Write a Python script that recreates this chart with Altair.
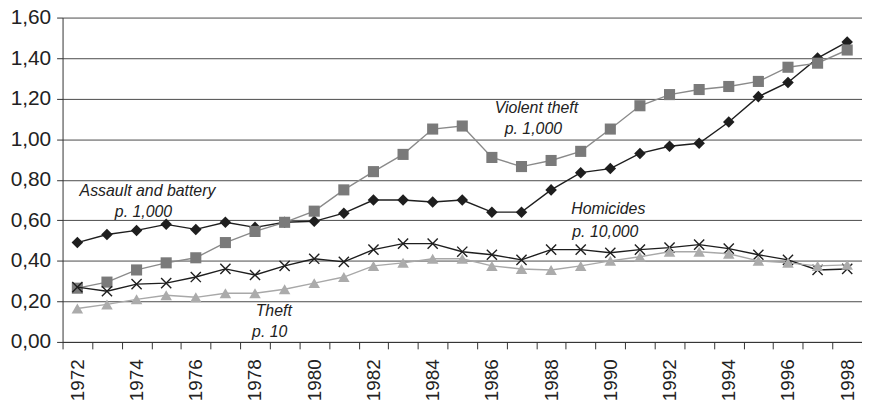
import altair as alt
import pandas as pd

years = list(range(1972, 1999))

assault = [0.49, 0.53, 0.55, 0.58, 0.555, 0.59, 0.565, 0.59, 0.595, 0.635, 0.70, 0.70, 0.69,
           0.70, 0.64, 0.64, 0.75, 0.835, 0.855, 0.93, 0.965, 0.98, 1.085, 1.21, 1.28, 1.40, 1.48]
violent_theft = [0.265, 0.295, 0.355, 0.39, 0.415, 0.49, 0.545, 0.59, 0.645, 0.75, 0.84, 0.925, 1.05,
                 1.065, 0.91, 0.865, 0.895, 0.94, 1.05, 1.165, 1.22, 1.245, 1.26, 1.285, 1.355, 1.375, 1.44]
homicides = [0.27, 0.25, 0.285, 0.29, 0.32, 0.36, 0.33, 0.375, 0.41, 0.395, 0.455, 0.485, 0.485,
             0.445, 0.43, 0.405, 0.455, 0.455, 0.44, 0.455, 0.465, 0.48, 0.46, 0.43, 0.405, 0.355, 0.36]
theft = [0.165, 0.185, 0.21, 0.23, 0.22, 0.24, 0.24, 0.26, 0.29, 0.32, 0.375, 0.39, 0.41,
         0.41, 0.375, 0.36, 0.355, 0.375, 0.40, 0.42, 0.445, 0.445, 0.435, 0.40, 0.39, 0.375, 0.38]

series_names = ["Assault and battery", "Violent theft", "Homicides", "Theft"]
series_values = [assault, violent_theft, homicides, theft]

ann_text = ["Assault and battery", "p. 1,000", "Violent theft", "p. 1,000",
            "Homicides", "p. 10,000", "Theft", "p. 10"]
ann_year = [1974, 1974, 1987, 1987, 1990, 1990, 1979, 1979]
ann_value = [0.744, 0.641, 1.155, 1.052, 0.656, 0.543, 0.152, 0.049]
ann_dx = [11, 7, 15, 12, -2, -5, -11, -15]

styles = {
    "Assault and battery": dict(line="#1e1e1e", point="#1e1e1e", shape="diamond", size=135, filled=True, lw=1.4),
    "Violent theft": dict(line="#8a8a8a", point="#7a7a7a", shape="square", size=125, filled=True, lw=1.4),
    "Homicides": dict(line="#1e1e1e", point="#1e1e1e", shape="M-1,-1L1,1M-1,1L1,-1", size=105, filled=False, lw=1.4),
    "Theft": dict(line="#a8a8a8", point="#ababab", shape="triangle-up", size=135, filled=True, lw=1.4),
}

x_enc = alt.X(
    "year:O",
    scale=alt.Scale(type="band", paddingInner=0, paddingOuter=0, domain=years),
    axis=alt.Axis(
        title=None, labelAngle=270, labelAlign="right", labelBaseline="middle",
        labelFontSize=19, labelPadding=10, tickSize=7, tickBand="extent",
        labelExpr="datum.value % 2 == 0 ? datum.label : ''",
        domainColor="#333333", tickColor="#333333", labelColor="#222222", grid=False,
    ),
)
y_enc = alt.Y(
    "value:Q",
    scale=alt.Scale(domain=[0, 1.6], nice=False),
    axis=alt.Axis(
        title=None, values=[0, 0.2, 0.4, 0.6, 0.8, 1.0, 1.2, 1.4, 1.6],
        labelExpr="replace(format(datum.value, '.2f'), '.', ',')",
        labelFontSize=21, labelPadding=6, tickSize=6,
        domainColor="#333333", tickColor="#333333", labelColor="#222222",
        grid=True, gridColor="#4a4a4a", gridWidth=1,
    ),
)

layers = []
for name, vals in zip(series_names, series_values):
    df = pd.DataFrame({"year": years, "value": vals, "series": name})
    st = styles[name]
    base = alt.Chart(df)
    layers.append(base.mark_line(color=st["line"], strokeWidth=st["lw"]).encode(x=x_enc, y=y_enc))
    if st["filled"]:
        pt = base.mark_point(shape=st["shape"], size=st["size"], filled=True, color=st["point"], opacity=1)
    else:
        pt = base.mark_point(shape=st["shape"], size=st["size"], filled=False, color=st["point"],
                             strokeWidth=1.4, opacity=1)
    layers.append(pt.encode(x=x_enc, y=y_enc))

ann_df = pd.DataFrame({"year": ann_year, "value": ann_value, "text": ann_text, "dx": ann_dx})
for i in range(len(ann_df)):
    row = ann_df.iloc[[i]]
    layers.append(
        alt.Chart(row).mark_text(
            font="Liberation Sans", fontStyle="italic", fontSize=16, color="#222222",
            align="center", baseline="middle", dx=int(ann_dx[i]),
        ).encode(x=x_enc, y=y_enc, text="text:N")
    )

chart = alt.layer(*layers).properties(
    width=806, height=327,
    autosize=alt.AutoSizeParams(type="none"),
    padding={"left": 55, "top": 8, "right": 0, "bottom": 67},
).configure(font="Liberation Sans").configure_view(stroke=None)

chart.save("out.html", embed_options={"renderer": "svg", "actions": False})
